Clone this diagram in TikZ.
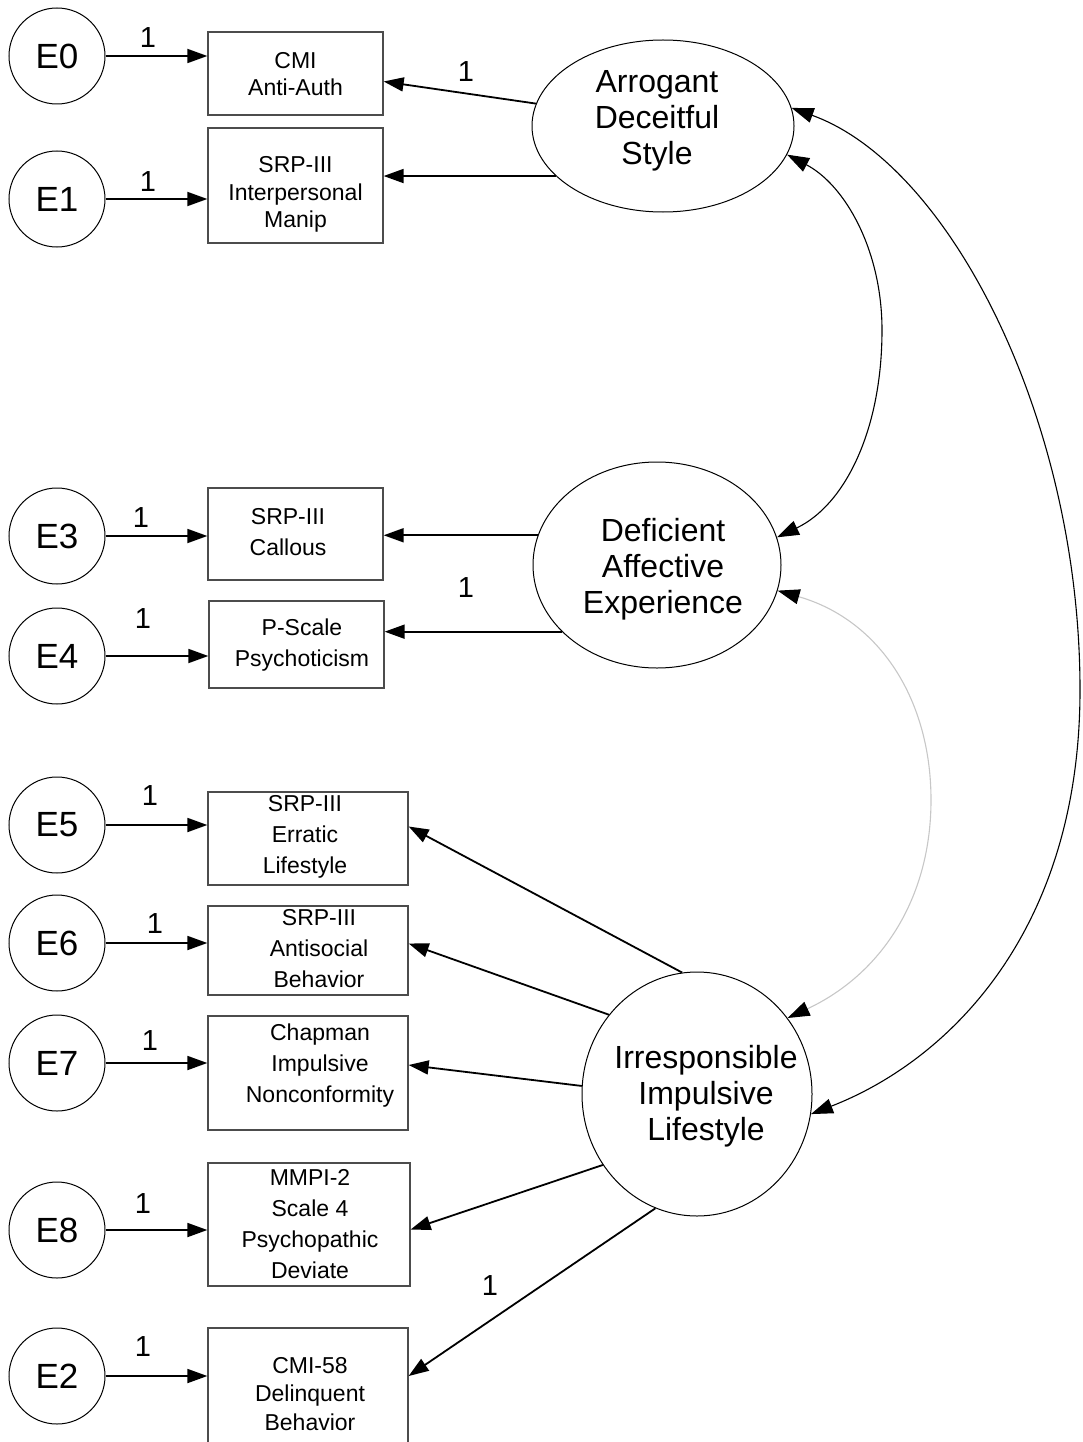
\documentclass[tikz,border=0pt]{standalone}
\usepackage{fontspec}
\setmainfont{Liberation Sans}
\usetikzlibrary{arrows.meta,shapes.geometric}
\begin{document}
\begin{tikzpicture}[x=1pt,y=-1pt,
  errc/.style={circle,draw=black,line width=1pt,minimum size=96pt,inner sep=0pt,font=\fontsize{35}{35}\selectfont},
  obsbox/.style={rectangle,draw=black!70,line width=1.3pt,inner sep=0pt},
  boxtxt/.style={align=center,inner sep=0pt,font=\fontsize{23}{31}\selectfont},
  boxtxttop/.style={align=center,inner sep=0pt,font=\fontsize{23}{27.5}\selectfont},
  latent/.style={ellipse,draw=black,line width=1pt,inner sep=0pt},
  lattxt/.style={align=center,inner sep=0pt,font=\fontsize{32}{36}\selectfont},
  one/.style={inner sep=0pt,font=\fontsize{29}{29}\selectfont},
  load/.style={line width=1.8pt,-{Triangle[length=20pt,width=14pt]}},
  cov/.style={line width=1.1pt,{Triangle[length=22pt,width=15pt,color=black]}-{Triangle[length=22pt,width=15pt,color=black]}},
]
\useasboundingbox (0,0) rectangle (1083,1442);
\clip (0,0) rectangle (1083,1442);

% error terms
\node[errc] (E0) at (57,56) {E0};
\node[errc] (E1) at (57,199) {E1};
\node[errc] (E3) at (57,536) {E3};
\node[errc] (E4) at (57,656) {E4};
\node[errc] (E5) at (57,825) {E5};
\node[errc] (E6) at (57,943) {E6};
\node[errc] (E7) at (57,1063) {E7};
\node[errc] (E8) at (57,1230) {E8};
\node[errc] (E2) at (57,1376) {E2};

% observed indicators
\node[obsbox,minimum width=175pt,minimum height=83pt] (b0) at (295.5,73.5) {};
\node[boxtxttop] (t0) at (295.5,74) {CMI\\Anti-Auth};
\node[obsbox,minimum width=175pt,minimum height=115pt] (b1) at (295.5,185.5) {};
\node[boxtxttop] (t1) at (295.5,194.5) {SRP-III\\Interpersonal\\Manip};
\node[obsbox,minimum width=175pt,minimum height=92pt] (b3) at (295.5,534) {};
\node[boxtxt] (t3) at (288,532) {SRP-III\\Callous};
\node[obsbox,minimum width=175pt,minimum height=87pt] (b4) at (296.5,644.5) {};
\node[boxtxt] (t4) at (302,645) {P-Scale\\Psychoticism};
\node[obsbox,minimum width=200pt,minimum height=93pt] (b5) at (308,838.5) {};
\node[boxtxt] (t5) at (305,837) {SRP-III\\Erratic\\Lifestyle};
\node[obsbox,minimum width=200pt,minimum height=89pt] (b6) at (308,950.5) {};
\node[boxtxt] (t6) at (319,949) {SRP-III\\Antisocial\\Behavior};
\node[obsbox,minimum width=200pt,minimum height=114pt] (b7) at (308,1073) {};
\node[boxtxt] (t7) at (320,1066) {Chapman\\Impulsive\\Nonconformity};
\node[obsbox,minimum width=202pt,minimum height=123pt] (b8) at (309,1224.5) {};
\node[boxtxt] (t8) at (310,1224) {MMPI-2\\Scale 4\\Psychopathic\\Deviate};
\node[obsbox,minimum width=200pt,minimum height=142pt] (b2) at (308,1399) {};
\node[boxtxt,font=\fontsize{23}{28.5}\selectfont] (t2) at (310,1394) {CMI-58\\Delinquent\\Behavior};

% latent factors
\node[latent,minimum width=262pt,minimum height=172pt] (A) at (663,126) {};
\node[lattxt] (tA) at (657,121) {Arrogant\\Deceitful\\Style};
\node[latent,minimum width=248pt,minimum height=206pt] (D) at (657,565) {};
\node[lattxt] (tD) at (663,569) {Deficient\\Affective\\Experience};
\node[latent,minimum width=230pt,minimum height=244pt] (I) at (697,1094) {};
\node[lattxt] (tI) at (706,1096) {Irresponsible\\Impulsive\\Lifestyle};

% error paths
\foreach \e/\b in {E0/b0,E1/b1,E3/b3,E4/b4,E5/b5,E6/b6,E7/b7,E8/b8,E2/b2}
  \draw[load] (\e.east) -- (\e.east -| \b.west);

% factor loadings
\draw[load] (A.170) -- ([yshift=-8pt]b0.east);
\draw[load] (A.205) -- (A.205 -| b1.east);
\draw[load] (D.166) -- (D.166 -| b3.east);
\draw[load] (D.215) -- (D.215 -| b4.east);
\draw[load] (I.97) -- ([yshift=12pt]b5.east);
\draw[load] (I.138) -- ([yshift=7pt]b6.east);
\draw[load] (I.176) -- ([yshift=8pt]b7.east);
\draw[load] (I.217) -- ([yshift=-5pt]b8.east);
\draw[load] (I.250) -- ([yshift=23pt]b2.east);

% fixed-parameter labels
\node[one] (o0) at (148,38) {1};
\node[one] (o1) at (148,182) {1};
\node[one] (o3) at (141,518) {1};
\node[one] (o4) at (143,619) {1};
\node[one] (o5) at (150,796) {1};
\node[one] (o6) at (155,924) {1};
\node[one] (o7) at (150,1041) {1};
\node[one] (o8) at (143,1204) {1};
\node[one] (o2) at (143,1347) {1};
\node[one] (oA) at (466,72) {1};
\node[one] (oD) at (466,588) {1};
\node[one] (oI) at (490,1286) {1};

% factor covariances
\draw[cov] (A.8) .. controls (950,165) and (1080,420) .. (1080,690)
  .. controls (1080,930) and (950,1060) .. (I.-10);
\draw[cov] (A.-13) .. controls (845,185) and (882,250) .. (882,330)
  .. controls (882,430) and (845,505) .. (D.13);
\draw[cov,draw=black!22] (D.-12) .. controls (880,620) and (931,700) .. (931,800)
  .. controls (931,900) and (880,975) .. (I.40);
\end{tikzpicture}
\end{document}
